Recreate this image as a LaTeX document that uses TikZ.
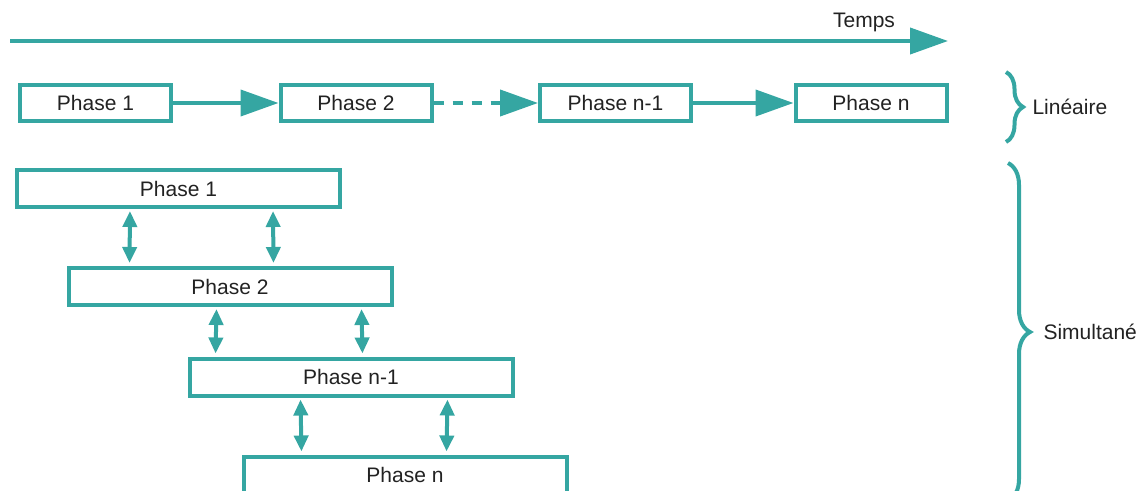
\documentclass[tikz,border=0pt]{standalone}
\usepackage{fontspec}
\setmainfont{Liberation Sans}
\usetikzlibrary{arrows.meta,decorations.pathreplacing}
\definecolor{teal1}{HTML}{35A6A2}
\definecolor{txt}{HTML}{222222}
\tikzset{
  x=1pt, y=-1pt,
  every node/.style={font=\fontsize{21}{25}\selectfont, text=txt},
  lbox/.style={draw=teal1, line width=4pt, fill=white, rectangle, inner sep=0pt,
    minimum width=151pt, minimum height=36pt},
  sbox/.style={draw=teal1, line width=4pt, fill=white, rectangle, inner sep=0pt,
    minimum width=323pt, minimum height=37pt},
  bigarrow/.style={draw=teal1, line width=4pt, -{Triangle[length=38pt,width=26pt]}},
  dblarrow/.style={draw=teal1, line width=4pt, {Triangle[length=16pt,width=14pt]}-{Triangle[length=16pt,width=14pt]}, shorten <=2pt, shorten >=3pt},
  bracestyle/.style={draw=teal1, line width=4pt, decorate, decoration={brace, amplitude=#1}},
}
\begin{document}
\begin{tikzpicture}
\useasboundingbox (0,0) rectangle (1147,490);
% time axis
\coordinate (t0) at (10,41);
\coordinate (t1) at (948,41);
\draw[bigarrow] (t0) -- (t1);
\node (temps) at (864,22) {Temps};
% linear row
\node[lbox] (l1) at (95.5,103) {Phase 1};
\node[lbox] (l2) at (356,103) {Phase 2};
\node[lbox] (l3) at (615.5,103) {Phase n-1};
\node[lbox] (l4) at (871,103) {Phase n};
\draw[bigarrow] (l1.east) -- (l2.west);
\draw[bigarrow, dash pattern=on 10pt off 9pt] (l2.east) -- (l3.west);
\draw[bigarrow] (l3.east) -- (l4.west);
% simultaneous
\node[sbox] (s1) at (178.5,188.5) {Phase 1};
\node[sbox] (s2) at (230,286.5) {Phase 2};
\node[sbox] (s3) at (351,377) {Phase n-1};
\node[sbox] (s4) at (405,475) {Phase n};
\draw[dblarrow] ([xshift=115pt]s1.south west) -- ([xshift=63pt]s2.north west);
\draw[dblarrow] ([xshift=-69pt]s1.south east) -- ([xshift=-120pt]s2.north east);
\draw[dblarrow] ([xshift=150pt]s2.south west) -- ([xshift=28pt]s3.north west);
\draw[dblarrow] ([xshift=-32pt]s2.south east) -- ([xshift=-152pt]s3.north east);
\draw[dblarrow] ([xshift=113pt]s3.south west) -- ([xshift=60pt]s4.north west);
\draw[dblarrow] ([xshift=-67pt]s3.south east) -- ([xshift=-122pt]s4.north east);
% braces
\coordinate (b1t) at (1006,72);
\coordinate (b1b) at (1006,142);
\draw[bracestyle=17pt] (b1t) -- (b1b);
\node[anchor=west] (lin) at (1029,107) {Linéaire};
\coordinate (b2t) at (1008,163);
\coordinate (b2b) at (1008,501);
\draw[bracestyle=22pt] (b2t) -- (b2b);
\node[anchor=west] (sim) at (1040,332) {Simultané};
\end{tikzpicture}
\end{document}
